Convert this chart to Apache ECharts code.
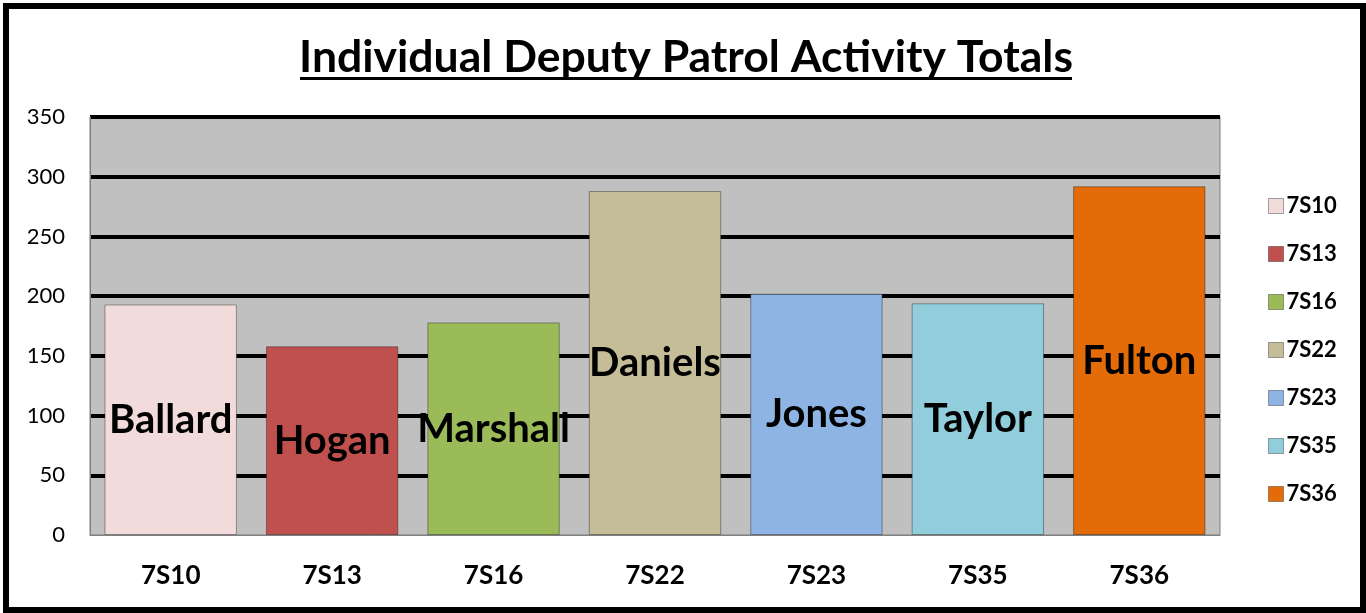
<!DOCTYPE html>
<html>
<head>
<meta charset="utf-8">
<title>Individual Deputy Patrol Activity Totals</title>
<script src="https://cdn.jsdelivr.net/npm/echarts@6/dist/echarts.min.js"></script>
<style>
	html, body { margin: 0; padding: 0; background: #fff; }
	#chart { width: 1366px; height: 613px; }
</style>
</head>
<body>
<div id="chart"></div>
<script>
"use strict";

// data
var units = ["7S10", "7S13", "7S16", "7S22", "7S23", "7S35", "7S36"];
var deputies = ["Ballard", "Hogan", "Marshall", "Daniels", "Jones", "Taylor", "Fulton"];
var totals = [193, 158, 178, 288, 202, 194, 292];
var colors = ["#F2DCDB", "#C0504D", "#9BBB59", "#C4BD97", "#8DB4E2", "#92CDDC", "#E36C09"];

var chart = echarts.init(document.getElementById("chart"));

// one series per unit so the legend gets a swatch each
var series = [];
for (var i = 0; i < units.length; i++) {
	var vals = [];
	for (var j = 0; j < units.length; j++) {
		vals.push(j === i ? totals[i] : "-");
	}
	series.push({
		name : units[i],
		type : "bar",
		barGap : "-100%",
		barCategoryGap : "18%",
		data : vals,
		itemStyle : {
			color : colors[i],
			borderColor : "rgba(0,0,0,0.35)",
			borderWidth : 1
		},
		label : {
			show : true,
			position : "inside",
			formatter : (function (name) {
				return function () { return name; };
			}(deputies[i])),
			color : "#000",
			fontFamily : "Lato",
			fontWeight : "bold",
			fontSize : 40
		}
	});
}

var option = {
	animation : false,
	backgroundColor : "#fff",
	title : {
		text : "Individual Deputy Patrol Activity Totals",
		left : 681,
		top : 30,
		textAlign : "center",
		textStyle : {
			fontFamily : "Lato",
			fontWeight : "bold",
			fontSize : 44.5,
			color : "#000"
		}
	},
	legend : {
		orient : "vertical",
		left : 1263,
		top : 188,
		itemWidth : 15,
		itemHeight : 15,
		itemGap : 22,
		icon : "rect",
		itemStyle : {
			borderColor : "rgba(0,0,0,0.35)",
			borderWidth : 1
		},
		textStyle : {
			fontFamily : "Lato",
			fontWeight : "bold",
			fontSize : 22,
			lineHeight : 26,
			color : "#000",
			padding : [0, 0, 0, -2]
		},
		data : units
	},
	grid : {
		left : 90,
		top : 117,
		width : 1130,
		height : 418,
		show : true,
		backgroundColor : "#C0C0C0",
		borderColor : "#808080",
		borderWidth : 1
	},
	xAxis : {
		type : "category",
		data : units,
		axisLine : { lineStyle : { color : "#808080", width : 1 } },
		axisTick : { show : false },
		axisLabel : {
			margin : 28,
			fontFamily : "Lato",
			fontWeight : "bold",
			fontSize : 26,
			color : "#000"
		}
	},
	yAxis : {
		type : "value",
		min : 0,
		max : 350,
		interval : 50,
		axisLine : { show : true, lineStyle : { color : "#808080", width : 1 } },
		axisTick : { show : false },
		axisLabel : {
			margin : 25,
			fontFamily : "Lato",
			fontSize : 22,
			color : "#000"
		},
		splitLine : {
			show : true,
			showMinLine : false,
			lineStyle : { color : "#000", width : 4 }
		}
	},
	graphic : [
		{
			// title underline
			type : "rect",
			shape : { x : 300, y : 77, width : 772, height : 3 },
			style : { fill : "#000" }
		},
		{
			// outer frame
			type : "rect",
			shape : { x : 6, y : 6, width : 1357, height : 604 },
			style : { fill : null, stroke : "#000", lineWidth : 6 },
			silent : true
		}
	],
	series : series
};

chart.setOption(option);
</script>
</body>
</html>
